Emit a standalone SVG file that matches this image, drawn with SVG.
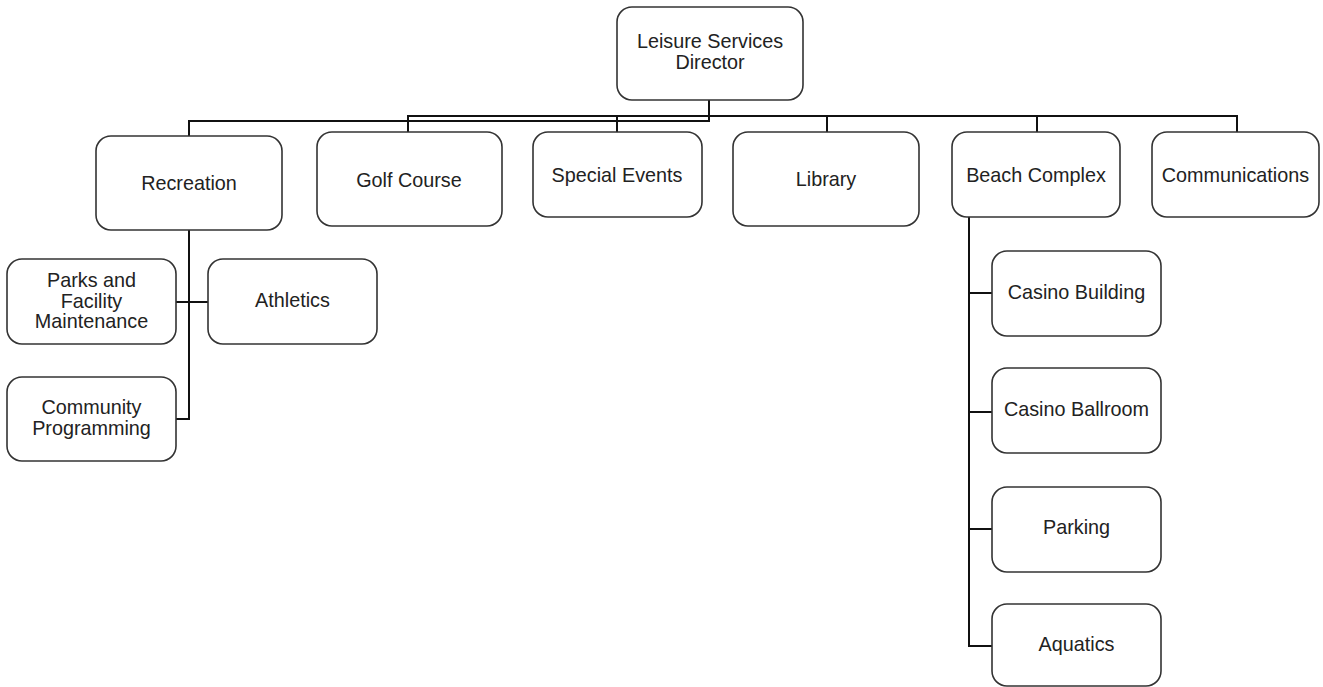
<svg xmlns="http://www.w3.org/2000/svg" width="1323" height="687" viewBox="0 0 1323 687">
  <style>
    .box { fill: #ffffff; stroke: #333333; stroke-width: 1.6; }
    .lbl { font-family: "Liberation Sans", Arial, sans-serif; font-size: 19.8px; fill: #222222; text-anchor: middle; }
    .conn { fill: none; stroke: #111111; stroke-width: 2; }
  </style>
  <rect width="1323" height="687" fill="#ffffff"/>

  <!-- reporting lines -->
  <g id="connectors">
    <path class="conn" d="M709,100 V121 H189 V136"/>
    <path class="conn" d="M408,132 V116 H1237 V132"/>
    <path class="conn" d="M617,116 V132"/>
    <path class="conn" d="M827,116 V132"/>
    <path class="conn" d="M1037,116 V132"/>
    <!-- Recreation branch -->
    <path class="conn" d="M189,230 V419 H176"/>
    <path class="conn" d="M176,302 H208"/>
    <!-- Beach Complex branch -->
    <path class="conn" d="M969,217 V646 H992"/>
    <path class="conn" d="M969,293 H992"/>
    <path class="conn" d="M969,412 H992"/>
    <path class="conn" d="M969,529 H992"/>
  </g>

  <g id="director">
    <rect class="box" x="617" y="7" width="186" height="93" rx="15"/>
    <text class="lbl" x="710" y="48">Leisure Services</text>
    <text class="lbl" x="710" y="69">Director</text>
  </g>

  <g id="recreation">
    <rect class="box" x="96" y="136" width="186" height="94" rx="15"/>
    <text class="lbl" x="189" y="190">Recreation</text>
  </g>

  <g id="golf-course">
    <rect class="box" x="317" y="132" width="185" height="94" rx="15"/>
    <text class="lbl" x="409" y="187">Golf Course</text>
  </g>

  <g id="special-events">
    <rect class="box" x="533" y="132" width="169" height="85" rx="15"/>
    <text class="lbl" x="617" y="182">Special Events</text>
  </g>

  <g id="library">
    <rect class="box" x="733" y="132" width="186" height="94" rx="15"/>
    <text class="lbl" x="826" y="186">Library</text>
  </g>

  <g id="beach-complex">
    <rect class="box" x="952" y="132" width="168" height="85" rx="15"/>
    <text class="lbl" x="1036" y="182">Beach Complex</text>
  </g>

  <g id="communications">
    <rect class="box" x="1152" y="132" width="167" height="85" rx="15"/>
    <text class="lbl" x="1235.5" y="182">Communications</text>
  </g>

  <g id="parks-facility-maintenance">
    <rect class="box" x="7" y="259" width="169" height="85" rx="15"/>
    <text class="lbl" x="91.5" y="287">Parks and</text>
    <text class="lbl" x="91.5" y="308">Facility</text>
    <text class="lbl" x="91.5" y="328">Maintenance</text>
  </g>

  <g id="athletics">
    <rect class="box" x="208" y="259" width="169" height="85" rx="15"/>
    <text class="lbl" x="292.5" y="307">Athletics</text>
  </g>

  <g id="community-programming">
    <rect class="box" x="7" y="377" width="169" height="84" rx="15"/>
    <text class="lbl" x="91.5" y="414">Community</text>
    <text class="lbl" x="91.5" y="435">Programming</text>
  </g>

  <g id="casino-building">
    <rect class="box" x="992" y="251" width="169" height="85" rx="15"/>
    <text class="lbl" x="1076.5" y="299">Casino Building</text>
  </g>

  <g id="casino-ballroom">
    <rect class="box" x="992" y="368" width="169" height="85" rx="15"/>
    <text class="lbl" x="1076.5" y="416">Casino Ballroom</text>
  </g>

  <g id="parking">
    <rect class="box" x="992" y="487" width="169" height="85" rx="15"/>
    <text class="lbl" x="1076.5" y="534">Parking</text>
  </g>

  <g id="aquatics">
    <rect class="box" x="992" y="604" width="169" height="82" rx="15"/>
    <text class="lbl" x="1076.5" y="651">Aquatics</text>
  </g>
</svg>
